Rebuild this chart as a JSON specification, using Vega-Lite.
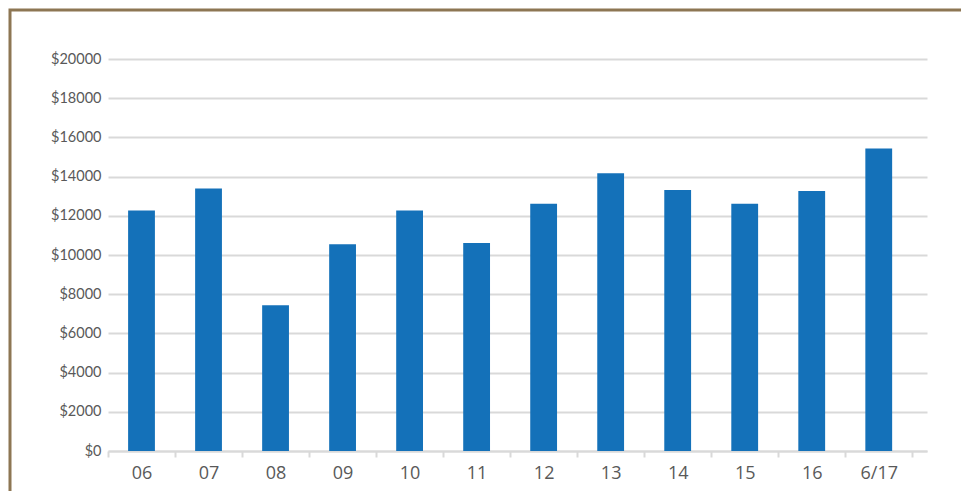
{
  "$schema": "https://vega.github.io/schema/vega-lite/v6.json",
  "autosize": {"type": "none"},
  "width": 959,
  "height": 489,
  "padding": {"left": 10, "top": 10, "right": -8, "bottom": -8},
  "background": "white",
  "config": {
    "view": {"stroke": "#8d7653", "strokeWidth": 3, "fill": "white"}
  },
  "data": {
    "values": [
      {"year": "06", "value": 12270},
      {"year": "07", "value": 13390},
      {"year": "08", "value": 7430},
      {"year": "09", "value": 10550},
      {"year": "10", "value": 12270},
      {"year": "11", "value": 10610},
      {"year": "12", "value": 12620},
      {"year": "13", "value": 14170},
      {"year": "14", "value": 13320},
      {"year": "15", "value": 12620},
      {"year": "16", "value": 13260},
      {"year": "6/17", "value": 15440}
    ]
  },
  "mark": {"type": "bar", "color": "#1471b9", "width": {"band": 0.4}},
  "encoding": {
    "x": {
      "field": "year",
      "type": "ordinal",
      "sort": null,
      "scale": {"range": [98, 917], "paddingInner": 0, "paddingOuter": 0.11, "align": 0},
      "axis": {
        "title": null,
        "offset": -48,
        "labelAngle": 0,
        "tickBand": "extent",
        "grid": false,
        "domainColor": "#d9d9d9",
        "domainWidth": 2,
        "tickColor": "#d9d9d9",
        "tickWidth": 2,
        "tickSize": 6,
        "labelPadding": 7,
        "labelFont": "Open Sans",
        "labelFontSize": 18,
        "labelColor": "#595959"
      }
    },
    "y": {
      "field": "value",
      "type": "quantitative",
      "scale": {"domain": [0, 20000], "range": [441, 49], "nice": false, "zero": true},
      "axis": {
        "title": null,
        "offset": -99,
        "values": [0, 2000, 4000, 6000, 8000, 10000, 12000, 14000, 16000, 18000, 20000],
        "labelExpr": "'$' + datum.value",
        "domain": false,
        "ticks": false,
        "grid": true,
        "gridColor": "#d9d9d9",
        "gridWidth": 2,
        "labelPadding": 8,
        "labelFont": "Lato",
        "labelFontSize": 14.5,
        "labelColor": "#595959"
      }
    }
  }
}
